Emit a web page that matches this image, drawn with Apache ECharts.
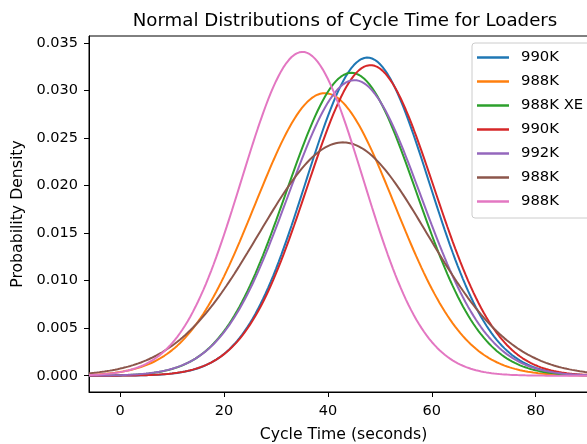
<!DOCTYPE html>
<html>
<head>
<meta charset="utf-8">
<script src="https://cdn.jsdelivr.net/npm/echarts@6/dist/echarts.min.js"></script>
<style>
  html, body { margin: 0; padding: 0; background: #fff; }
  #chart { width: 587px; height: 444px; }
</style>
</head>
<body>
<div id="chart"></div>
<script>
// loaders (legend labels repeat, so a suffix keeps them apart)
var loaderNames = ['990K', '988K', '988K XE', '990K', '992K', '988K', '988K'];
var meanCycle = [47.6, 39.4, 44.5, 48.2, 45.1, 42.9, 35.1];
var stdCycle = [11.92, 13.42, 12.52, 12.21, 12.83, 16.25, 11.71];
var lineColors = ['#1f77b4', '#ff7f0e', '#2ca02c', '#d62728', '#9467bd', '#8c564b', '#e377c2'];
var xTicks = [0, 20, 40, 60, 80];
var yTicks = [0, 0.005, 0.01, 0.015, 0.02, 0.025, 0.03, 0.035];

var FONT = 'DejaVu Sans';

function densityCurve(mu, sd) {
  var pts = [];
  for (var x = -6; x <= 92; x += 0.5) {
    var z = (x - mu) / sd;
    pts.push([x, Math.exp(-0.5 * z * z) / (sd * Math.sqrt(2 * Math.PI))]);
  }
  return pts;
}

var series = loaderNames.map(function (name, i) {
  return {
    name: name + '#' + i,
    type: 'line',
    data: densityCurve(meanCycle[i], stdCycle[i]),
    showSymbol: false,
    symbol: 'none',
    lineStyle: { width: 2, color: lineColors[i] },
    itemStyle: { color: lineColors[i] },
  };
});

var chart = echarts.init(document.getElementById('chart'));
chart.setOption({
  animation: false,
  title: {
    text: 'Normal Distributions of Cycle Time for Loaders',
    left: 340, textAlign: 'center', top: 7,
    textStyle: { fontFamily: FONT, fontSize: 18.2, fontWeight: 'normal', color: '#000' },
  },
  grid: {
    left: 89, top: 36, right: -11, bottom: 52,
    outerBoundsMode: 'none', containLabel: false,
    show: true, borderColor: '#000', borderWidth: 1,
  },
  legend: {
    orient: 'vertical',
    left: 472, top: 43,
    icon: 'rect',
    itemWidth: 32, itemHeight: 2.5,
    itemGap: 9,
    padding: [7, 20, 9, 5],
    backgroundColor: 'rgba(255,255,255,0.8)',
    borderColor: '#cccccc', borderWidth: 1, borderRadius: 3,
    textStyle: { fontFamily: FONT, fontSize: 14.8, color: '#000', padding: [0, 0, 0, 7] },
    formatter: function (n) { return n.split('#')[0]; },
  },
  xAxis: {
    type: 'value', min: -6, max: 92,
    name: 'Cycle Time (seconds)', nameLocation: 'middle', nameGap: 35,
    nameTextStyle: { fontFamily: FONT, fontSize: 15.7, color: '#000' },
    axisLine: { show: true, onZero: false, lineStyle: { color: '#000', width: 1 } },
    axisTick: { show: true, length: 5, lineStyle: { color: '#000' }, customValues: xTicks },
    axisLabel: { fontFamily: FONT, fontSize: 14.5, color: '#000', margin: 12, customValues: xTicks },
    splitLine: { show: false },
  },
  yAxis: {
    type: 'value', min: -0.00171, max: 0.03574,
    name: 'Probability Density', nameLocation: 'middle', nameGap: 58, nameRotate: 90,
    nameTextStyle: { fontFamily: FONT, fontSize: 15.7, color: '#000' },
    axisLine: { show: true, onZero: false, lineStyle: { color: '#000', width: 1 } },
    axisTick: { show: true, length: 5, lineStyle: { color: '#000' }, customValues: yTicks },
    axisLabel: {
      fontFamily: FONT, fontSize: 14.5, color: '#000', margin: 11, customValues: yTicks,
      formatter: function (v) { return v.toFixed(3); },
    },
    splitLine: { show: false },
  },
  series: series,
});
</script>
</body>
</html>
